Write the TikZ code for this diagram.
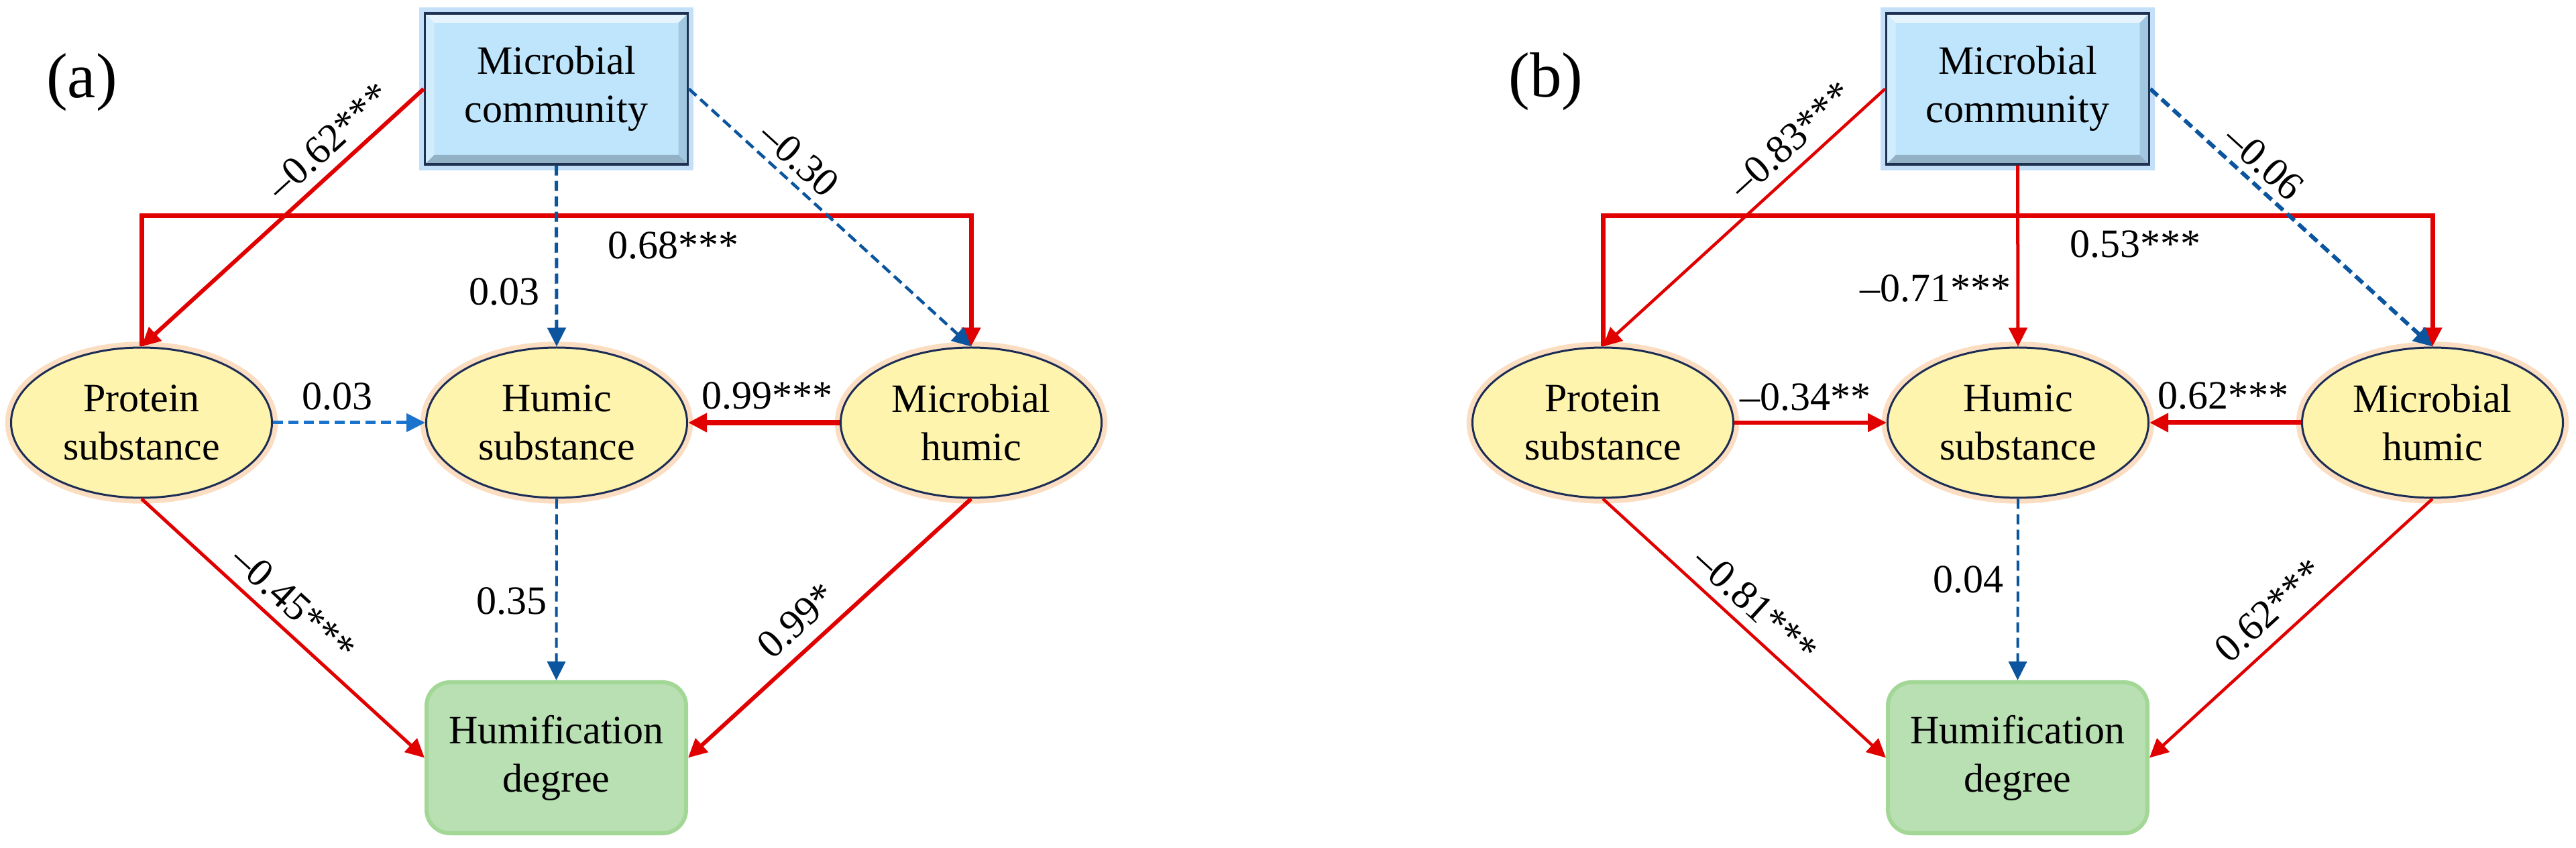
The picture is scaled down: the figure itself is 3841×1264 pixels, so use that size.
\documentclass[tikz,border=0pt]{standalone}
\usepackage{fontspec}
\setmainfont{Liberation Serif}
\usetikzlibrary{arrows.meta,shapes.geometric}
\definecolor{myred}{HTML}{E10000}
\definecolor{myblue}{HTML}{0B559F}
\definecolor{myblueL}{HTML}{1A73CC}
\definecolor{mcfill}{HTML}{BEE5FB}
\definecolor{mcdraw}{HTML}{1F3150}
\definecolor{mcglow}{HTML}{9CCBF3}
\definecolor{mcdark}{HTML}{6F8799}
\definecolor{mcside}{HTML}{7FA6C0}
\definecolor{yl1}{HTML}{FFF4AD}
\definecolor{yl2}{HTML}{F6E497}
\definecolor{yl3}{HTML}{CDB468}
\definecolor{eldraw}{HTML}{1C2D55}
\definecolor{elglow}{HTML}{F8BE86}
\definecolor{gr1}{HTML}{B9E0B3}
\definecolor{gr2}{HTML}{DDF4D8}
\definecolor{grglow}{HTML}{A2D796}
\pgfdeclareradialshading{ellshade}{\pgfpoint{0bp}{6bp}}{color(0bp)=(yl1); color(38bp)=(yl1); color(48bp)=(yl2); color(56bp)=(yl3)}
\pgfdeclareverticalshading{hdshade}{100bp}{color(0bp)=(gr1); color(86bp)=(gr1); color(95bp)=(gr2); color(100bp)=(gr2)}
\tikzset{
  nodefont/.style={font=\fontsize{12}{14.4}\selectfont},
  mcbox/.style={rectangle, minimum width=78.4pt, minimum height=45pt, inner sep=0pt,
    align=center, nodefont, fill=mcfill, draw=mcdraw, line width=0.7pt,
    preaction={draw=mcglow, line width=3.5pt, opacity=0.6},
    path picture={
      \def\ppb{path picture bounding box}
      \fill[white,opacity=0.6] (\ppb.north west) -- (\ppb.north east) -- ([shift={(-2.8pt,-2.8pt)}]\ppb.north east) -- ([shift={(2.8pt,-2.8pt)}]\ppb.north west) -- cycle;
      \fill[mcdark,opacity=0.55] (\ppb.south west) -- (\ppb.south east) -- ([shift={(-2.8pt,2.8pt)}]\ppb.south east) -- ([shift={(2.8pt,2.8pt)}]\ppb.south west) -- cycle;
      \fill[mcside,opacity=0.45] (\ppb.north east) -- (\ppb.south east) -- ([shift={(-2.8pt,2.8pt)}]\ppb.south east) -- ([shift={(-2.8pt,-2.8pt)}]\ppb.north east) -- cycle;
      \fill[white,opacity=0.3] (\ppb.north west) -- (\ppb.south west) -- ([shift={(2.8pt,2.8pt)}]\ppb.south west) -- ([shift={(2.8pt,-2.8pt)}]\ppb.north west) -- cycle;
    }},
  ell/.style={ellipse, minimum width=77.8pt, minimum height=44.8pt, inner sep=0pt,
    align=center, nodefont, shade, shading=ellshade, draw=eldraw, line width=0.6pt,
    preaction={draw=elglow, line width=3.5pt, opacity=0.5}},
  hdbox/.style={rectangle, rounded corners=7pt, minimum width=77.4pt, minimum height=45pt,
    inner sep=0pt, align=center, nodefont, shade, shading=hdshade, draw=grglow, line width=1.2pt},
  lab/.style={font=\fontsize{12}{14.4}\selectfont, inner sep=0pt},
  panellab/.style={font=\fontsize{19}{22}\selectfont, inner sep=0pt},
  tip/.style={-{Triangle[length=5.6pt,width=5.4pt]}},
  redarr/.style={draw=myred, tip},
  bluearr/.style={draw=myblue, tip, dash pattern=on 3pt off 1.6pt},
  bluelarr/.style={draw=myblueL, tip, dash pattern=on 3pt off 1.6pt},
}
\begin{document}
\begin{tikzpicture}[x=0.2pt, y=-0.2pt]
\useasboundingbox (0,0) rectangle (3841,1264);
% ---------------- panel (a) ----------------
\node[panellab] (tagA) at (122,123) {(a)};
\node[mcbox] (mca) at (829.5,132.5) {Microbial\\community};
\node[ell] (pa) at (211,630) {Protein\\substance};
\node[ell] (ha) at (830,630) {Humic\\substance};
\node[ell] (mha) at (1448,630) {Microbial\\humic};
\node[hdbox] (hda) at (829.5,1129.5) {Humification\\degree};
\coordinate (bara) at (0,322);

\draw[redarr, line width=1.4pt] (pa.north) -- (pa.north |- bara) -- (mha.north |- bara) -- (mha.north);
\draw[redarr, line width=1.2pt] (mca.west) -- (pa.north);
\draw[bluearr, line width=1pt] (mca.south) -- (ha.north);
\draw[bluearr, line width=0.9pt] (mca.east) -- (mha.north);
\draw[bluelarr, line width=1pt] (pa.east) -- (ha.west);
\draw[redarr, line width=1.6pt] (mha.west) -- (ha.east);
\draw[redarr, line width=1pt] (pa.south) -- (hda.west);
\draw[bluearr, line width=0.8pt] (ha.south) -- (hda.north);
\draw[redarr, line width=1.2pt] (mha.south) -- (hda.east);

\node[lab, rotate=42.3] (la1) at (490,210) {–0.62***};
\node[lab, rotate=-42.2] (la2) at (1192,237) {–0.30};
\node[lab, anchor=base] (la3) at (752,455) {0.03};
\node[lab, anchor=base] (la4) at (1004,386) {0.68***};
\node[lab, anchor=base] (la5) at (503,611) {0.03};
\node[lab, anchor=base] (la6) at (1144,610) {0.99***};
\node[lab, rotate=-42.4] (la7) at (438,900) {–0.45***};
\node[lab, anchor=base] (la8) at (763,915) {0.35};
\node[lab, rotate=42.4] (la9) at (1188,925) {0.99*};

% ---------------- panel (b) ----------------
\node[panellab] (tagB) at (2305,122) {(b)};
\node[mcbox] (mcb) at (3008.5,132.5) {Microbial\\community};
\node[ell] (pb) at (2390,630) {Protein\\substance};
\node[ell] (hb) at (3009,630) {Humic\\substance};
\node[ell] (mhb) at (3627,630) {Microbial\\humic};
\node[hdbox] (hdb) at (3008.5,1129.5) {Humification\\degree};
\coordinate (barb) at (0,322);

\draw[redarr, line width=1.4pt] (pb.north) -- (pb.north |- barb) -- (mhb.north |- barb) -- (mhb.north);
\draw[redarr, line width=0.9pt] (mcb.west) -- (pb.north);
\draw[redarr, line width=1pt] (mcb.south) -- (hb.north);
\draw[bluearr, line width=1.2pt] (mcb.east) -- (mhb.north);
\draw[redarr, line width=1.1pt] (pb.east) -- (hb.west);
\draw[redarr, line width=1.4pt] (mhb.west) -- (hb.east);
\draw[redarr, line width=0.9pt] (pb.south) -- (hdb.west);
\draw[bluearr, line width=0.8pt] (hb.south) -- (hdb.north);
\draw[redarr, line width=0.9pt] (mhb.south) -- (hdb.east);

\node[lab, rotate=42.3] (lb1) at (2670,208) {–0.83***};
\node[lab, rotate=-42.2] (lb2) at (3376,242) {–0.06};
\node[lab, anchor=base] (lb3) at (2886,450) {–0.71***};
\node[lab, anchor=base] (lb4) at (3184,384) {0.53***};
\node[lab, anchor=base] (lb5) at (2692,612) {–0.34**};
\node[lab, anchor=base] (lb6) at (3315,610) {0.62***};
\node[lab, rotate=-42.4] (lb7) at (2618,902) {–0.81***};
\node[lab, anchor=base] (lb8) at (2935,883) {0.04};
\node[lab, rotate=42.4] (lb9) at (3383,910) {0.62***};
\end{tikzpicture}
\end{document}
